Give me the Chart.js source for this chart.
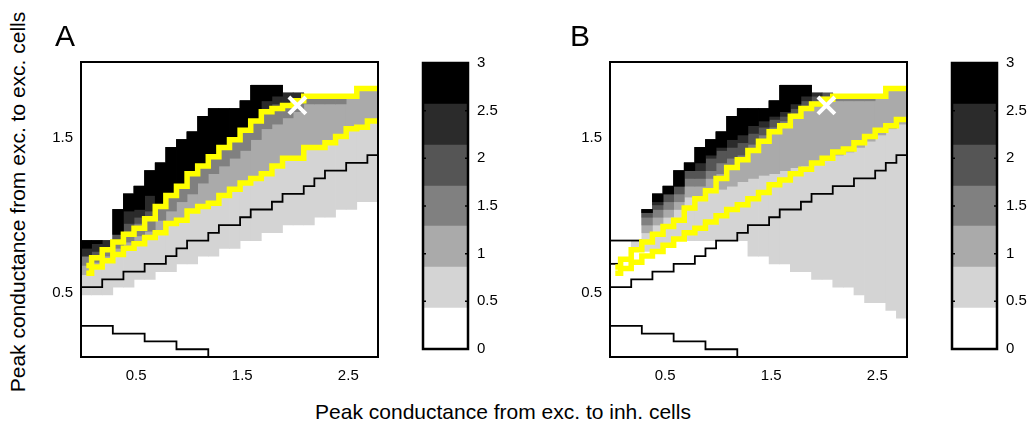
<!DOCTYPE html>
<html>
<head>
<meta charset="utf-8">
<script src="https://cdn.jsdelivr.net/npm/chart.js@4.4.1/dist/chart.umd.min.js"></script>
<style>
  html, body { margin: 0; padding: 0; background: #fff; }
  body { position: relative; width: 1027px; height: 423px; overflow: hidden; font-family: "Liberation Sans", Arial, sans-serif; }
  canvas { position: absolute; }
  .lbl { position: absolute; white-space: nowrap; line-height: 1; color: #000; }
</style>
</head>
<body>
<canvas id="heatA" width="354" height="345" style="left:40px;top:45px;width:354px;height:345px"></canvas>
<canvas id="barA" width="85" height="322" style="left:413px;top:45px;width:85px;height:322px"></canvas>
<canvas id="heatB" width="354" height="345" style="left:569px;top:45px;width:354px;height:345px"></canvas>
<canvas id="barB" width="85" height="322" style="left:942px;top:45px;width:85px;height:322px"></canvas>

<div class="lbl" style="left:55px;top:21px;font-size:30px">A</div>
<div class="lbl" style="left:570px;top:21px;font-size:30px">B</div>
<div class="lbl" style="left:503px;top:401px;font-size:21px;transform:translateX(-50%)">Peak conductance from exc. to inh. cells</div>
<div class="lbl" style="left:17px;top:202px;font-size:21px;transform:translate(-50%,-50%) rotate(-90deg)">Peak conductance from exc. to exc. cells</div>

<script>
// grid columns (cell edges) and axis ranges
const colEdges = [-0.02,0.08,0.18,0.28,0.38,0.48,0.58,0.68,0.78,0.88,0.98,1.08,1.18,1.28,1.38,1.48,1.58,1.68,1.78,1.88,1.98,2.08,2.18,2.28,2.38,2.48,2.58,2.68,2.78];
const yRange = [0.09, 1.99];
const xTicks = [0.5, 1.5, 2.5];
const yTicks = [0.5, 1.5];

// colour scale
const grays = ['#ffffff','#d4d4d4','#aaaaaa','#808080','#555555','#2b2b2b','#000000'];
const cbEdges = [0, 0.43, 0.86, 1.29, 1.71, 2.14, 2.57, 3];
const cbTicks = [0, 0.5, 1, 1.5, 2, 2.5, 3];

// panel A: top of filled region and lower edge of each grey level, per column
const aTop    = [0.84,0.84,0.84,1.04,1.14,1.19,1.29,1.34,1.44,1.49,1.54,1.64,1.69,1.69,1.69,1.74,1.84,1.84,1.84,1.79,1.79,1.77,1.77,1.77,1.77,1.77,1.82,1.82];
const aFloor1 = [0.49,0.49,0.49,0.54,0.54,0.59,0.59,0.64,0.64,0.69,0.69,0.74,0.74,0.79,0.79,0.84,0.84,0.89,0.89,0.94,0.94,0.94,0.99,0.99,1.04,1.04,1.09,1.09];
const aFloor2 = [0.62,0.66,0.70,0.74,0.78,0.81,0.85,0.88,0.94,0.96,1.02,1.05,1.07,1.12,1.16,1.20,1.23,1.26,1.31,1.36,1.36,1.43,1.43,1.46,1.50,1.55,1.56,1.60];
const aFloor3 = [0.68,0.70,0.74,0.79,0.83,0.87,0.90,0.97,1.03,1.09,1.14,1.21,1.27,1.32,1.37,1.42,1.49,1.56,1.59,1.63,1.67,1.72,1.72,1.72,1.72,1.77,1.82,1.82];
const aFloor4 = [0.74,0.74,0.78,0.84,0.90,0.95,0.99,1.05,1.12,1.18,1.26,1.31,1.37,1.43,1.48,1.54,1.60,1.67,1.69,1.71,1.74,1.77,1.77,1.77,1.77,1.77,1.82,1.82];
const aFloor5 = [0.74,0.77,0.79,0.88,0.95,0.99,1.03,1.05,1.12,1.18,1.26,1.31,1.37,1.43,1.48,1.54,1.60,1.69,1.72,1.71,1.74,1.77,1.77,1.77,1.77,1.77,1.82,1.82];
const aFloor6 = [0.79,0.82,0.84,0.88,1.03,1.04,1.13,1.05,1.12,1.18,1.26,1.31,1.37,1.43,1.48,1.54,1.60,1.74,1.77,1.79,1.79,1.77,1.77,1.77,1.77,1.77,1.82,1.82];
const aYellowHi = [0.68,0.73,0.78,0.83,0.88,0.92,0.98,1.06,1.13,1.19,1.27,1.32,1.38,1.44,1.49,1.55,1.61,1.67,1.69,1.71,1.74,1.77,1.77,1.77,1.77,1.77,1.82,1.82];
const aYellowLo = [0.63,0.67,0.71,0.75,0.79,0.82,0.86,0.89,0.95,0.97,1.03,1.06,1.08,1.13,1.17,1.21,1.24,1.27,1.32,1.37,1.37,1.44,1.44,1.47,1.51,1.56,1.57,1.61];
const aBlackMid = [0.54,0.54,0.59,0.59,0.64,0.64,0.69,0.69,0.74,0.79,0.84,0.84,0.89,0.94,0.94,0.99,1.04,1.04,1.09,1.14,1.14,1.19,1.24,1.29,1.29,1.34,1.34,1.39];

// panel B
const bTop    = [0.84,0.84,0.84,1.04,1.14,1.19,1.29,1.34,1.44,1.49,1.54,1.64,1.69,1.69,1.69,1.74,1.84,1.84,1.84,1.79,1.79,1.77,1.77,1.77,1.77,1.77,1.82,1.82];
const bFloor1 = [0.84,0.84,0.79,0.77,0.77,0.81,0.84,0.84,0.84,0.84,0.84,0.84,0.84,0.74,0.74,0.69,0.69,0.64,0.64,0.59,0.59,0.54,0.54,0.49,0.44,0.44,0.39,0.34];
const bFloor2 = [0.84,0.84,0.84,0.89,0.94,0.99,1.04,1.12,1.12,1.17,1.17,1.19,1.22,1.24,1.26,1.27,1.29,1.31,1.32,1.34,1.36,1.39,1.41,1.44,1.48,1.52,1.56,1.59];
const bFloor3 = [0.84,0.84,0.84,0.94,0.99,1.04,1.09,1.19,1.19,1.24,1.27,1.31,1.36,1.42,1.48,1.54,1.58,1.64,1.69,1.72,1.75,1.74,1.74,1.74,1.74,1.77,1.82,1.82];
const bFloor4 = [0.84,0.84,0.84,0.99,1.04,1.09,1.14,1.24,1.24,1.29,1.34,1.37,1.39,1.46,1.52,1.57,1.61,1.66,1.71,1.74,1.77,1.77,1.77,1.77,1.77,1.77,1.82,1.82];
const bFloor5 = [0.84,0.84,0.84,1.02,1.07,1.14,1.19,1.29,1.29,1.37,1.42,1.44,1.47,1.53,1.57,1.62,1.64,1.69,1.74,1.77,1.79,1.77,1.77,1.77,1.77,1.77,1.82,1.82];
const bFloor6 = [0.84,0.84,0.84,1.02,1.09,1.14,1.19,1.29,1.34,1.39,1.44,1.49,1.52,1.58,1.61,1.64,1.67,1.72,1.77,1.79,1.79,1.77,1.77,1.77,1.77,1.77,1.82,1.82];
const bYellowHi = [0.67,0.72,0.78,0.83,0.88,0.93,0.97,1.05,1.11,1.16,1.24,1.31,1.36,1.42,1.48,1.54,1.58,1.64,1.69,1.72,1.75,1.77,1.77,1.77,1.77,1.77,1.82,1.82];
const bYellowLo = [0.63,0.66,0.70,0.74,0.77,0.81,0.85,0.89,0.92,0.96,1.00,1.04,1.07,1.11,1.15,1.20,1.23,1.27,1.30,1.34,1.37,1.41,1.43,1.47,1.51,1.55,1.58,1.62];
const bBlackMid = [0.54,0.54,0.59,0.59,0.64,0.64,0.69,0.69,0.74,0.79,0.84,0.84,0.89,0.94,0.94,0.99,1.04,1.04,1.09,1.14,1.14,1.19,1.19,1.24,1.24,1.29,1.34,1.39];
const bBlackTop = [0.84,0.84,0.84];
const bBlackShort = [0.69];

// both panels
const lowContour = [0.29,0.29,0.29,0.24,0.24,0.24,0.19,0.19,0.19,0.14,0.14,0.14,0.09];
const marker = { x: 2.02, y: 1.71 };

const font = { family: '"Liberation Sans", Arial, sans-serif', size: 15 };
Chart.defaults.font.family = font.family;
Chart.defaults.color = '#000';

const centers = colEdges.slice(0, -1).map((e, i) => (e + colEdges[i + 1]) / 2);

// staircase through the column edges: flat over each column, vertical at the edges
function stairs(vals, fromCenter) {
  const pts = [];
  vals.forEach((v, i) => {
    pts.push({ x: i === 0 && fromCenter ? centers[0] : colEdges[i], y: v });
    pts.push({ x: colEdges[i + 1], y: v });
  });
  return pts;
}

function band(floor, top, color, order) {
  const data = [];
  centers.forEach((x, i) => {
    if (floor[i] < top[i]) data.push({ x: x, y: [floor[i], top[i]] });
  });
  return { type: 'bar', data: data, backgroundColor: color, borderWidth: 0, grouped: false,
           barPercentage: 1, categoryPercentage: 1, order: order };
}

function stepLine(pts, color, width, order) {
  return { type: 'line', data: pts, borderColor: color, borderWidth: width, pointRadius: 0,
           fill: false, tension: 0, order: order,
           borderJoinStyle: 'miter', borderCapStyle: 'butt' };
}

const framePlugin = {
  id: 'frame',
  afterDraw(chart, args, opts) {
    const { ctx, chartArea: a } = chart;
    ctx.save();
    ctx.strokeStyle = '#000';
    ctx.lineWidth = opts.width || 2;
    ctx.strokeRect(a.left, a.top, a.right - a.left, a.bottom - a.top);
    if (opts.marks) {
      const s = chart.scales.y;
      ctx.lineWidth = 1.5;
      s.ticks.forEach(t => {
        const y = s.getPixelForValue(t.value);
        ctx.beginPath();
        ctx.moveTo(a.left, y); ctx.lineTo(a.left + 3, y);
        ctx.moveTo(a.right - 3, y); ctx.lineTo(a.right, y);
        ctx.stroke();
      });
    }
    ctx.restore();
  }
};

function heatChart(id, sets) {
  return new Chart(document.getElementById(id), {
    type: 'bar',
    data: { datasets: sets },
    options: {
      responsive: false,
      animation: false,
      events: [],
      layout: { padding: { top: 10, right: 10, left: 0, bottom: 0 } },
      plugins: { legend: { display: false }, tooltip: { enabled: false }, frame: { width: 2 } },
      scales: {
        x: {
          type: 'linear', min: colEdges[0], max: colEdges[colEdges.length - 1], offset: false,
          grid: { display: false, drawTicks: false }, border: { display: false },
          ticks: { padding: 10, maxRotation: 0, font: font, callback: v => String(v) },
          afterBuildTicks: s => { s.ticks = xTicks.map(v => ({ value: v })); },
          afterFit: s => { s.height = 33; }
        },
        y: {
          type: 'linear', min: yRange[0], max: yRange[1],
          grid: { display: false, drawTicks: false }, border: { display: false },
          ticks: { padding: 8, font: font, callback: v => String(v) },
          afterBuildTicks: s => { s.ticks = yTicks.map(v => ({ value: v })); },
          afterFit: s => { s.width = 41; }
        }
      }
    },
    plugins: [framePlugin]
  });
}

function panelSets(top, floors, hi, lo, mid, extra) {
  const sets = [];
  floors.forEach((f, k) => sets.push(band(f, top, grays[k + 1], 20 - k)));
  sets.push(stepLine(stairs(mid), '#000', 1.8, 5));
  sets.push(stepLine(stairs(lowContour), '#000', 1.8, 5));
  extra.forEach(e => sets.push(stepLine(stairs(e), '#000', 1.8, 5)));
  sets.push(stepLine(stairs(lo, true), '#ffff00', 5.5, 3));
  sets.push(stepLine(stairs(hi, true), '#ffff00', 5.5, 3));
  sets.push({ type: 'scatter', data: [marker], pointStyle: 'crossRot', pointRadius: 12,
              borderColor: '#ffffff', backgroundColor: '#ffffff',
              pointBorderColor: '#ffffff', pointBorderWidth: 4, showLine: false, order: 0 });
  return sets;
}

heatChart('heatA', panelSets(aTop, [aFloor1, aFloor2, aFloor3, aFloor4, aFloor5, aFloor6],
  aYellowHi, aYellowLo, aBlackMid, []));
heatChart('heatB', panelSets(bTop, [bFloor1, bFloor2, bFloor3, bFloor4, bFloor5, bFloor6],
  bYellowHi, bYellowLo, bBlackMid, [bBlackTop, bBlackShort]));

function colorBar(id) {
  return new Chart(document.getElementById(id), {
    type: 'bar',
    data: {
      labels: [''],
      datasets: grays.map((c, i) => ({
        data: [[cbEdges[i], cbEdges[i + 1]]], backgroundColor: c, borderWidth: 0,
        grouped: false, barPercentage: 1, categoryPercentage: 1
      }))
    },
    options: {
      responsive: false,
      animation: false,
      events: [],
      layout: { padding: { top: 10, bottom: 10, left: 10, right: 0 } },
      plugins: { legend: { display: false }, tooltip: { enabled: false }, frame: { width: 2.5, marks: true } },
      scales: {
        x: { display: false },
        y: {
          position: 'right', min: 0, max: 3,
          grid: { display: false, drawTicks: false }, border: { display: false },
          ticks: { padding: 9, font: font, callback: v => String(v) },
          afterBuildTicks: s => { s.ticks = cbTicks.map(v => ({ value: v })); },
          afterFit: s => { s.width = 30; }
        }
      }
    },
    plugins: [framePlugin]
  });
}

colorBar('barA');
colorBar('barB');
</script>
</body>
</html>
